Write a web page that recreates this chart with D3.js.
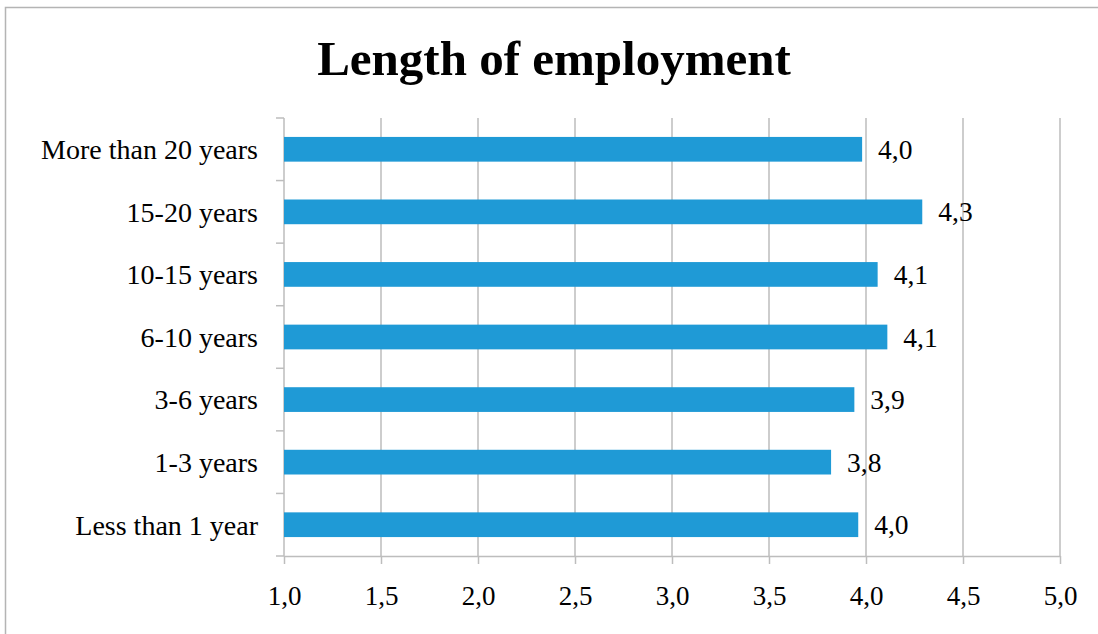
<!DOCTYPE html>
<html>
<head>
<meta charset="utf-8">
<script src="https://cdn.jsdelivr.net/npm/d3@7"></script>
<style>
  html, body { margin: 0; padding: 0; background: #fff; }
  svg { display: block; }
  text { font-family: "Liberation Serif", "Times New Roman", serif; fill: #000; }
</style>
</head>
<body>
<svg id="chart" width="1098" height="634"></svg>
<script>
// Mean scores by length of employment (top to bottom as listed)
const categories = [
  "More than 20 years",
  "15-20 years",
  "10-15 years",
  "6-10 years",
  "3-6 years",
  "1-3 years",
  "Less than 1 year"
];
const values = [3.98, 4.29, 4.06, 4.11, 3.94, 3.82, 3.96];
const xTicks = [1.0, 1.5, 2.0, 2.5, 3.0, 3.5, 4.0, 4.5, 5.0];
const title = "Length of employment";

const svg = d3.select("#chart");
const W = 1098, H = 634;
const plot = { left: 284, right: 1060, top: 118, bottom: 556 };
const fmt = v => d3.format(".1f")(v).replace(".", ",");

// Outer chart frame
svg.append("rect")
  .attr("x", 5.5).attr("y", 7.5)
  .attr("width", W + 10).attr("height", H + 10)
  .attr("fill", "#fff").attr("stroke", "#b4b4b4").attr("stroke-width", 1.5);

svg.append("text")
  .attr("x", 554).attr("y", 75)
  .attr("text-anchor", "middle")
  .attr("font-size", 49).attr("font-weight", "bold")
  .text(title);

const x = d3.scaleLinear().domain([1, 5]).range([plot.left, plot.right]);
const y = d3.scaleBand().domain(categories).range([plot.top, plot.bottom]).padding(0);

const gridColor = "#bdbdbd";

// Vertical gridlines
svg.append("g").selectAll("line")
  .data(xTicks.slice(1))
  .join("line")
  .attr("x1", d => x(d)).attr("x2", d => x(d))
  .attr("y1", plot.top).attr("y2", plot.bottom)
  .attr("stroke", gridColor).attr("stroke-width", 1.5);

// Bottom axis
const xAxis = d3.axisBottom(x).tickValues(xTicks).tickSize(8).tickSizeOuter(0).tickFormat(fmt).tickPadding(22);
const gx = svg.append("g").attr("transform", `translate(0,${plot.bottom})`).call(xAxis);
gx.select(".domain").attr("stroke", gridColor).attr("stroke-width", 1.5);
gx.selectAll(".tick line").attr("stroke", gridColor).attr("stroke-width", 1.5);
gx.selectAll(".tick text").attr("font-size", 27).attr("font-family", "Liberation Serif, serif").attr("fill", "#000");

// Left axis with ticks at band boundaries
svg.append("line")
  .attr("x1", plot.left).attr("x2", plot.left)
  .attr("y1", plot.top).attr("y2", plot.bottom)
  .attr("stroke", gridColor).attr("stroke-width", 1.5);
const bounds = categories.map(c => y(c)).concat([plot.bottom]);
svg.append("g").selectAll("line")
  .data(bounds)
  .join("line")
  .attr("x1", plot.left - 8).attr("x2", plot.left)
  .attr("y1", d => d).attr("y2", d => d)
  .attr("stroke", gridColor).attr("stroke-width", 1.5);

svg.append("g").selectAll("text")
  .data(categories)
  .join("text")
  .attr("x", plot.left - 26)
  .attr("y", d => y(d) + y.bandwidth() / 2)
  .attr("dy", "0.35em")
  .attr("text-anchor", "end")
  .attr("font-size", 28)
  .text(d => d);

// Bars
const barH = y.bandwidth() * 0.395;
const rows = categories.map((c, i) => ({ c, v: values[i] }));
svg.append("g").selectAll("rect")
  .data(rows)
  .join("rect")
  .attr("x", x(1))
  .attr("y", d => y(d.c) + (y.bandwidth() - barH) / 2)
  .attr("width", d => x(d.v) - x(1))
  .attr("height", barH)
  .attr("fill", "#1f9ad6");

// Value labels
svg.append("g").selectAll("text")
  .data(rows)
  .join("text")
  .attr("x", d => x(d.v) + 16)
  .attr("y", d => y(d.c) + y.bandwidth() / 2)
  .attr("dy", "0.35em")
  .attr("font-size", 27.5)
  .text(d => fmt(d.v));
</script>
</body>
</html>
